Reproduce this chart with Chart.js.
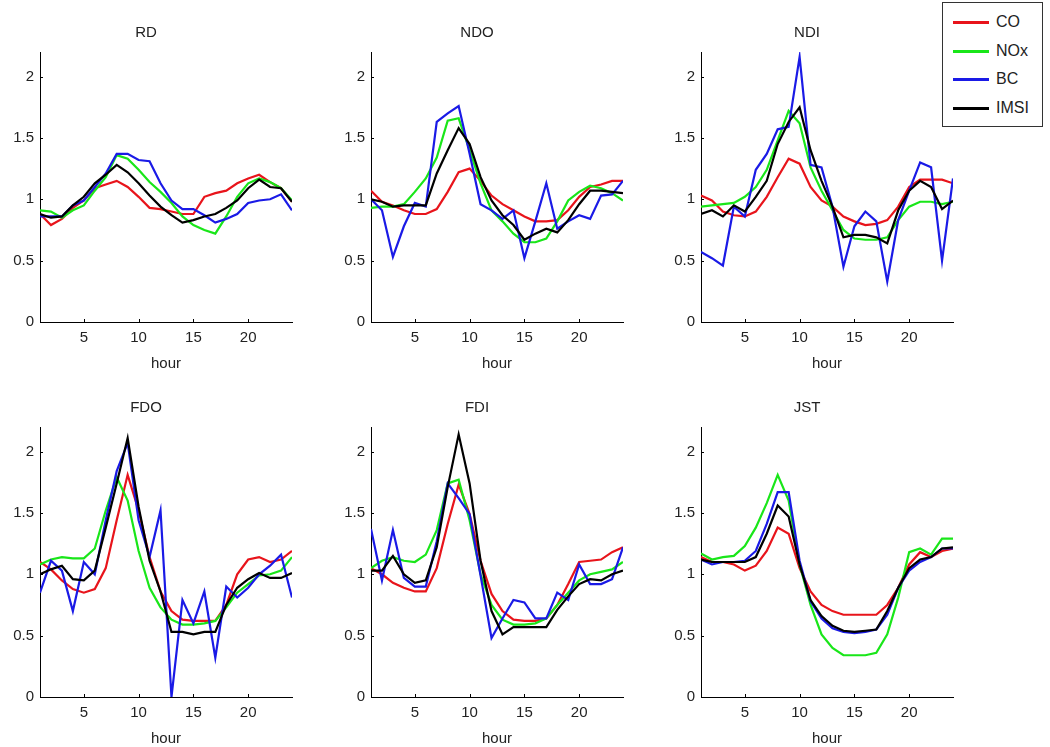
<!DOCTYPE html>
<html>
<head>
<meta charset="utf-8">
<script src="https://cdn.jsdelivr.net/npm/chart.js@4.4.0/dist/chart.umd.min.js"></script>
<style>
  body { margin: 0; background: #fff; width: 1050px; height: 747px; overflow: hidden; position: relative; font-family: 'Liberation Sans', Arial, sans-serif; }
  .panel { position: absolute; width: 300px; height: 354px; }
  #legend { position: absolute; left: 942px; top: 2px; width: 99px; height: 123px; border: 1px solid #333; background: #fff; }
  #legend .row { position: absolute; left: 0; height: 20px; width: 99px; }
  #legend .sw { position: absolute; left: 10px; top: 9px; width: 36px; height: 3px; }
  #legend .lb { position: absolute; left: 53px; top: 0; font-size: 16px; line-height: 20px; color: #222; }
</style>
</head>
<body>
<div class="panel" style="left:0px; top:20px;"><canvas id="c0" width="300" height="354"></canvas></div>
<div class="panel" style="left:331px; top:20px;"><canvas id="c1" width="300" height="354"></canvas></div>
<div class="panel" style="left:661px; top:20px;"><canvas id="c2" width="300" height="354"></canvas></div>
<div class="panel" style="left:0px; top:395px;"><canvas id="c3" width="300" height="354"></canvas></div>
<div class="panel" style="left:331px; top:395px;"><canvas id="c4" width="300" height="354"></canvas></div>
<div class="panel" style="left:661px; top:395px;"><canvas id="c5" width="300" height="354"></canvas></div>
<div id="legend"></div>

<script>
// hours of the day
const hours = [1,2,3,4,5,6,7,8,9,10,11,12,13,14,15,16,17,18,19,20,21,22,23,24];
const xTicks = [5, 10, 15, 20];
const yTicks = [0, 0.5, 1, 1.5, 2];

const seriesNames = ['CO', 'NOx', 'BC', 'IMSI'];
const seriesColors = ['#e8141b', '#19e619', '#1a1ae6', '#000000'];

const panelTitles = ['RD', 'NDO', 'NDI', 'FDO', 'FDI', 'JST'];

// RD
const rdCO   = [0.88,0.79,0.84,0.93,0.99,1.09,1.12,1.15,1.10,1.02,0.93,0.92,0.90,0.88,0.88,1.02,1.05,1.07,1.13,1.17,1.20,1.14,1.09,0.98];
const rdNOx  = [0.91,0.90,0.85,0.91,0.95,1.07,1.18,1.36,1.33,1.24,1.14,1.06,0.97,0.86,0.79,0.75,0.72,0.86,1.02,1.13,1.17,1.14,1.09,0.99];
const rdBC   = [0.86,0.86,0.86,0.95,0.99,1.10,1.21,1.37,1.37,1.32,1.31,1.13,0.99,0.92,0.92,0.87,0.81,0.84,0.88,0.97,0.99,1.00,1.04,0.91];
const rdIMSI = [0.88,0.85,0.86,0.95,1.02,1.13,1.20,1.28,1.22,1.13,1.03,0.94,0.87,0.81,0.83,0.86,0.88,0.93,0.99,1.09,1.16,1.10,1.09,0.98];

// NDO
const ndoCO   = [1.07,0.98,0.95,0.91,0.88,0.88,0.92,1.06,1.22,1.25,1.15,1.03,0.96,0.91,0.86,0.82,0.82,0.83,0.91,1.02,1.10,1.12,1.15,1.15];
const ndoNOx  = [0.93,0.94,0.94,0.96,1.06,1.17,1.34,1.64,1.66,1.40,1.13,0.91,0.82,0.72,0.65,0.65,0.68,0.82,0.99,1.06,1.11,1.09,1.05,0.99];
const ndoBC   = [1.00,0.91,0.53,0.78,0.97,0.94,1.63,1.70,1.76,1.37,0.96,0.91,0.84,0.91,0.52,0.82,1.13,0.76,0.82,0.87,0.84,1.03,1.04,1.15];
const ndoIMSI = [1.00,0.98,0.94,0.95,0.95,0.95,1.21,1.40,1.58,1.45,1.18,0.99,0.87,0.79,0.67,0.72,0.76,0.73,0.83,0.96,1.07,1.07,1.06,1.05];

// NDI
const ndiCO   = [1.03,0.99,0.90,0.87,0.86,0.90,1.02,1.18,1.33,1.29,1.10,0.99,0.94,0.86,0.82,0.79,0.80,0.83,0.94,1.10,1.16,1.16,1.16,1.13];
const ndiNOx  = [0.94,0.95,0.96,0.97,1.02,1.10,1.24,1.48,1.72,1.62,1.26,1.07,0.91,0.75,0.68,0.67,0.67,0.69,0.83,0.94,0.98,0.98,0.96,0.98];
const ndiBC   = [0.57,0.52,0.46,0.94,0.86,1.24,1.37,1.57,1.59,2.16,1.28,1.26,0.94,0.45,0.78,0.90,0.82,0.33,0.83,1.07,1.30,1.26,0.50,1.17];
const ndiIMSI = [0.88,0.91,0.86,0.95,0.90,1.02,1.15,1.45,1.63,1.75,1.40,1.15,0.94,0.69,0.71,0.71,0.69,0.64,0.91,1.07,1.15,1.10,0.92,0.99];

// FDO
const fdoCO   = [1.10,1.04,0.95,0.88,0.85,0.88,1.05,1.44,1.81,1.52,1.14,0.86,0.70,0.63,0.62,0.62,0.62,0.75,1.00,1.12,1.14,1.10,1.12,1.19];
const fdoNOx  = [1.08,1.12,1.14,1.13,1.13,1.21,1.52,1.79,1.60,1.19,0.89,0.73,0.63,0.59,0.59,0.60,0.62,0.73,0.85,0.92,0.99,1.00,1.03,1.14];
const fdoBC   = [0.85,1.11,1.03,0.70,1.10,1.00,1.44,1.84,2.07,1.44,1.14,1.52,0.00,0.79,0.60,0.86,0.32,0.90,0.81,0.89,1.00,1.07,1.16,0.81];
const fdoIMSI = [1.00,1.04,1.07,0.96,0.95,1.03,1.38,1.74,2.11,1.55,1.11,0.86,0.53,0.53,0.51,0.53,0.53,0.75,0.89,0.96,1.01,0.97,0.97,1.01];

// FDI
const fdiCO   = [1.05,1.00,0.93,0.89,0.86,0.86,1.05,1.41,1.73,1.49,1.11,0.84,0.70,0.63,0.62,0.62,0.64,0.75,0.92,1.10,1.11,1.12,1.18,1.22];
const fdiNOx  = [1.05,1.11,1.14,1.11,1.10,1.16,1.36,1.74,1.77,1.44,1.00,0.75,0.63,0.59,0.59,0.60,0.64,0.75,0.85,0.95,1.00,1.02,1.04,1.10];
const fdiBC   = [1.37,0.95,1.36,0.97,0.90,0.90,1.27,1.74,1.62,1.49,0.99,0.48,0.64,0.79,0.77,0.64,0.64,0.85,0.79,1.08,0.92,0.92,0.96,1.22];
const fdiIMSI = [1.03,1.03,1.15,1.00,0.93,0.95,1.22,1.71,2.14,1.74,1.11,0.70,0.51,0.57,0.57,0.57,0.57,0.71,0.82,0.92,0.96,0.95,1.00,1.03];

// JST
const jstCO   = [1.14,1.10,1.10,1.08,1.03,1.07,1.19,1.38,1.33,1.05,0.86,0.75,0.70,0.67,0.67,0.67,0.67,0.75,0.89,1.08,1.18,1.14,1.19,1.21];
const jstNOx  = [1.17,1.12,1.14,1.15,1.23,1.38,1.58,1.81,1.60,1.08,0.75,0.51,0.40,0.34,0.34,0.34,0.36,0.51,0.81,1.18,1.21,1.16,1.29,1.29];
const jstBC   = [1.12,1.08,1.10,1.10,1.11,1.19,1.41,1.67,1.67,1.11,0.78,0.64,0.56,0.53,0.52,0.53,0.55,0.67,0.89,1.03,1.10,1.14,1.21,1.21];
const jstIMSI = [1.12,1.10,1.10,1.10,1.10,1.14,1.33,1.56,1.47,1.08,0.79,0.66,0.58,0.54,0.53,0.54,0.55,0.70,0.89,1.05,1.12,1.14,1.21,1.22];

const panelData = [
    [rdCO, rdNOx, rdBC, rdIMSI],
    [ndoCO, ndoNOx, ndoBC, ndoIMSI],
    [ndiCO, ndiNOx, ndiBC, ndiIMSI],
    [fdoCO, fdoNOx, fdoBC, fdoIMSI],
    [fdiCO, fdiNOx, fdiBC, fdiIMSI],
    [jstCO, jstNOx, jstBC, jstIMSI]
];

const fontFamily = "'Liberation Sans', Arial, sans-serif";

// small tick marks pointing into the plot, like the original
const innerTicks = {
    id: 'innerTicks',
    afterDraw(chart) {
        const ctx = chart.ctx;
        const xs = chart.scales.x;
        const ys = chart.scales.y;
        const area = chart.chartArea;
        ctx.save();
        ctx.strokeStyle = '#000';
        ctx.lineWidth = 1;
        ctx.beginPath();
        xTicks.forEach(function (v) {
            const px = Math.round(xs.getPixelForValue(v)) + 0.5;
            ctx.moveTo(px, area.bottom);
            ctx.lineTo(px, area.bottom - 3);
        });
        yTicks.forEach(function (v) {
            const py = Math.round(ys.getPixelForValue(v)) + 0.5;
            ctx.moveTo(area.left, py);
            ctx.lineTo(area.left + 3, py);
        });
        ctx.stroke();
        ctx.restore();
    }
};

function makePanel(idx) {
    const ctx = document.getElementById('c' + idx).getContext('2d');
    const datasets = panelData[idx].map(function (vals, k) {
        return {
            label: seriesNames[k],
            data: hours.map(function (h, i) { return { x: h, y: vals[i] }; }),
            borderColor: seriesColors[k],
            borderWidth: 2.2,
            pointRadius: 0,
            tension: 0,
            fill: false,
            order: 4 - k
        };
    });

    new Chart(ctx, {
        type: 'line',
        data: { datasets: datasets },
        options: {
            responsive: false,
            animation: false,
            layout: { padding: { top: 0, right: 8, bottom: 0, left: 0 } },
            plugins: {
                legend: { display: false },
                tooltip: { enabled: false },
                title: {
                    display: true,
                    text: panelTitles[idx],
                    color: '#222',
                    font: { family: fontFamily, size: 15, weight: 'normal', lineHeight: 1.2 },
                    padding: { top: 4, bottom: 10 }
                }
            },
            scales: {
                x: {
                    type: 'linear',
                    min: 1,
                    max: 24,
                    grid: { display: false, drawTicks: false },
                    border: { display: true, color: '#000', width: 1 },
                    afterBuildTicks: function (scale) {
                        scale.ticks = xTicks.map(function (v) { return { value: v }; });
                    },
                    afterFit: function (scale) { scale.height = 52; },
                    ticks: {
                        color: '#222',
                        padding: 7,
                        maxRotation: 0,
                        font: { family: fontFamily, size: 15 },
                        callback: function (v) { return String(v); }
                    },
                    title: {
                        display: true,
                        text: 'hour',
                        color: '#222',
                        font: { family: fontFamily, size: 15 },
                        padding: { top: 0, bottom: 1 }
                    }
                },
                y: {
                    type: 'linear',
                    min: 0,
                    max: 2.2,
                    grid: { display: false, drawTicks: false },
                    border: { display: true, color: '#000', width: 1 },
                    afterBuildTicks: function (scale) {
                        scale.ticks = yTicks.map(function (v) { return { value: v }; });
                    },
                    afterFit: function (scale) { scale.width = 40; },
                    ticks: {
                        color: '#222',
                        padding: 6,
                        font: { family: fontFamily, size: 15 },
                        callback: function (v) { return String(v); }
                    }
                }
            }
        },
        plugins: [innerTicks]
    });
}

for (let i = 0; i < 6; i++) {
    makePanel(i);
}

// legend box, top right
const legendBox = document.getElementById('legend');
const legendRowsY = [9, 38, 66, 95];
seriesNames.forEach(function (name, k) {
    const row = document.createElement('div');
    row.className = 'row';
    row.style.top = legendRowsY[k] + 'px';
    const sw = document.createElement('div');
    sw.className = 'sw';
    sw.style.background = seriesColors[k];
    const lb = document.createElement('div');
    lb.className = 'lb';
    lb.textContent = name;
    row.appendChild(sw);
    row.appendChild(lb);
    legendBox.appendChild(row);
});
</script>
</body>
</html>
